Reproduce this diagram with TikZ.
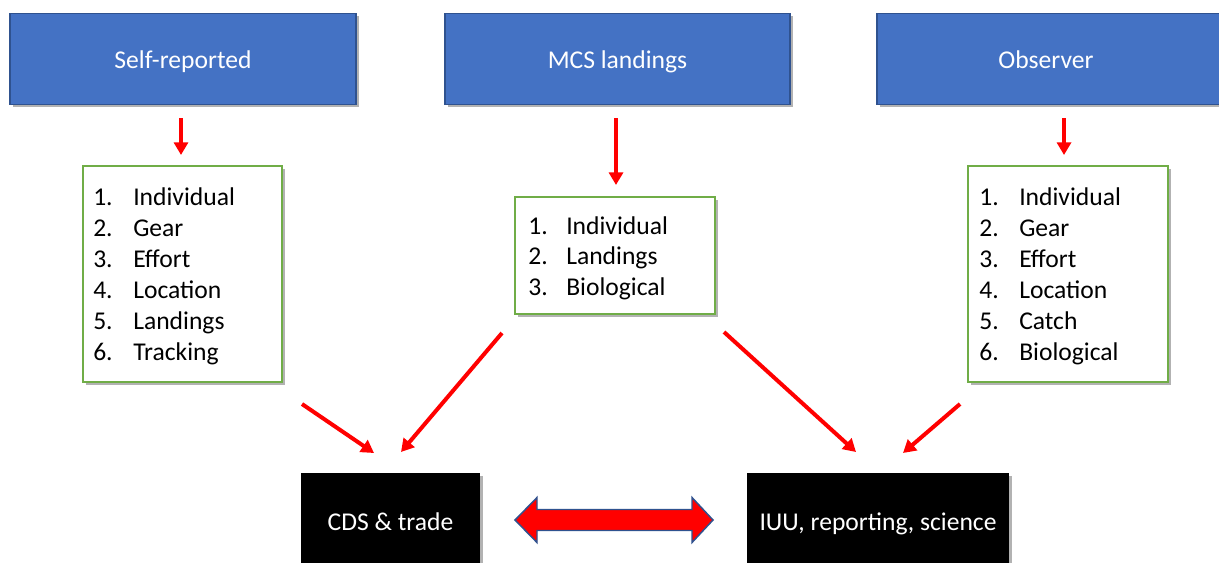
\documentclass[tikz,border=0pt]{standalone}
\usepackage{fontspec}
\setmainfont{Carlito}
\usetikzlibrary{arrows.meta,shadows}
\newdimen\pxu \pxu=0.75pt
\definecolor{boxblue}{HTML}{4472C4}
\definecolor{borderblue}{HTML}{2F528F}
\definecolor{boxgreen}{HTML}{70AD47}
\definecolor{arrowred}{HTML}{FF0000}
\tikzset{
  myshadow/.style={drop shadow={shadow xshift=2pt,shadow yshift=-2pt,opacity=0.3,fill=black}},
  srcbox/.style={rectangle,inner sep=0pt,fill=boxblue,draw=borderblue,line width=1.1pt,text=white,myshadow,font=\fontsize{19.2}{23}\selectfont,text height=16pt,text depth=2.5pt},
  listbox/.style={rectangle,inner sep=0pt,fill=white,draw=boxgreen,line width=2pt,myshadow},
  outbox/.style={rectangle,inner sep=0pt,fill=black,text=white,myshadow,font=\fontsize{19.2}{23}\selectfont,text height=14pt,text depth=2pt},
  itemtxt/.style={anchor=base west,inner sep=0pt,font=\fontsize{19.2}{23}\selectfont},
  redarrow/.style={draw=arrowred,line width=3pt,-{Triangle[length=9.5pt,width=10.5pt]}},
}
\begin{document}
\begin{tikzpicture}[x=0.75pt,y=-0.75pt]
\useasboundingbox (0,0) rectangle (1219,562);
% source boxes
\node[srcbox,minimum width=346\pxu,minimum height=91\pxu] (self) at (183,59) {Self-reported};
\node[srcbox,minimum width=345\pxu,minimum height=91\pxu] (mcs) at (617.5,59) {MCS landings};
\node[srcbox,minimum width=346\pxu,minimum height=91\pxu] (obs) at (1050,59) {\hspace*{-8\pxu}Observer};
% list boxes
\node[listbox,minimum width=199\pxu,minimum height=216\pxu] (lleft) at (182.5,274) {};
\node[listbox,minimum width=200\pxu,minimum height=117\pxu] (lmid) at (615,255.5) {};
\node[listbox,minimum width=200\pxu,minimum height=216\pxu] (lright) at (1068,274) {};
% list texts
\foreach \n/\w [count=\i] in {1/Individual,2/Gear,3/Effort,4/Location,5/Landings,6/Tracking}{
  \node[itemtxt] (ln\i) at (93,{205+31*(\i-1)}) {\n.};
  \node[itemtxt] (lw\i) at (133,{205+31*(\i-1)}) {\w};
}
\foreach \n/\w [count=\i] in {1/Individual,2/Landings,3/Biological}{
  \node[itemtxt] (mn\i) at (528,{234+30.5*(\i-1)}) {\n.};
  \node[itemtxt] (mw\i) at (566,{234+30.5*(\i-1)}) {\w};
}
\foreach \n/\w [count=\i] in {1/Individual,2/Gear,3/Effort,4/Location,5/Catch,6/Biological}{
  \node[itemtxt] (rn\i) at (979,{205+31*(\i-1)}) {\n.};
  \node[itemtxt] (rw\i) at (1019,{205+31*(\i-1)}) {\w};
}
% output boxes
\node[outbox,minimum width=179\pxu,minimum height=98\pxu] (cds) at (390.5,522) {CDS \& trade};
\node[outbox,minimum width=262\pxu,minimum height=98\pxu] (iuu) at (878,522) {IUU, reporting, science};
% arrow end points
\coordinate (s1) at (181,118); \coordinate (e1) at (181,155);
\coordinate (s2) at (616,118); \coordinate (e2) at (616,185);
\coordinate (s3) at (1064,118); \coordinate (e3) at (1064,155);
\coordinate (s4) at (302,404); \coordinate (e4) at (374,453);
\coordinate (s5) at (502,333); \coordinate (e5) at (401,452);
\coordinate (s6) at (724,332); \coordinate (e6) at (856,452);
\coordinate (s7) at (960,404); \coordinate (e7) at (903,453);
\draw[redarrow] (s1) -- (e1);
\draw[redarrow] (s2) -- (e2);
\draw[redarrow] (s3) -- (e3);
\draw[redarrow] (s4) -- (e4);
\draw[redarrow] (s5) -- (e5);
\draw[redarrow] (s6) -- (e6);
\draw[redarrow] (s7) -- (e7);
% double block arrow
\draw[fill=arrowred,draw=borderblue,line width=1.1pt,line join=miter]
  (515,520) -- (537,497.5) -- (537,509.5) -- (692,509.5) -- (692,497.5) -- (713,520)
  -- (692,542.5) -- (692,530.5) -- (537,530.5) -- (537,542.5) -- cycle;
\end{tikzpicture}
\end{document}
